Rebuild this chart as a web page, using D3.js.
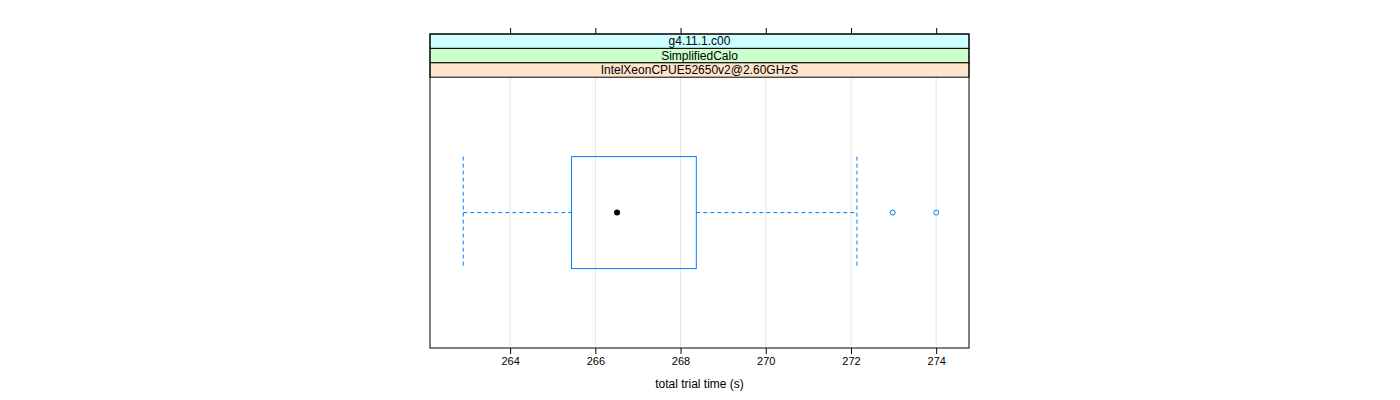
<!DOCTYPE html>
<html><head><meta charset="utf-8">
<script src="https://cdn.jsdelivr.net/npm/d3@7"></script>
<style>body{margin:0;background:#fff}svg{display:block}text{font-family:"Liberation Sans",Arial,sans-serif}</style>
</head><body>
<svg id="c" width="1400" height="400"></svg>
<script>
const stripLabels = ["g4.11.1.c00", "SimplifiedCalo", "IntelXeonCPUE52650v2@2.60GHzS"];
const stripColors = ["#ccffff", "#ccffcc", "#ffe5cc"];
const tickValues = [264, 266, 268, 270, 272, 274];
const xDomain = [262.12, 274.77];
const boxStats = { whiskerLow: 262.9, q1: 265.44, median: 266.51, q3: 268.37, whiskerHigh: 272.14 };
const outliers = [272.98, 274.0];
const xTitle = "total trial time (s)";

const svg = d3.select("#c");
const L = 430, R = 969, T = 34, stripH = 14.4, PB = 348;
const PT = T + stripH * 3;
const x = d3.scaleLinear().domain(xDomain).range([L, R]);
const y = d3.scaleBand().domain(["g"]).range([PT, PB]).paddingInner(0).paddingOuter(0);
const cy = y("g") + y.bandwidth() / 2;
const boxH = 112;
const col = "#0080ff";

// grid
svg.append("g").selectAll("line").data(tickValues).join("line")
  .attr("x1", d => x(d)).attr("x2", d => x(d)).attr("y1", PT).attr("y2", PB)
  .attr("stroke", "#e6e6e6").attr("stroke-width", 1);

// strips
stripLabels.forEach((s, i) => {
  const y0 = T + i * stripH;
  svg.append("rect").attr("x", L).attr("y", y0).attr("width", R - L).attr("height", stripH)
    .attr("fill", stripColors[i]).attr("stroke", "#000").attr("stroke-width", 1);
  svg.append("text").attr("x", (L + R) / 2).attr("y", y0 + stripH / 2 + 4)
    .attr("text-anchor", "middle").attr("font-size", 12).text(s);
});

// panel border
svg.append("rect").attr("x", L).attr("y", T).attr("width", R - L).attr("height", PB - T)
  .attr("fill", "none").attr("stroke", "#000").attr("stroke-width", 1);

// axes
const bottomAxis = svg.append("g").attr("transform", `translate(0,${PB})`)
  .call(d3.axisBottom(x).tickValues(tickValues).tickSize(6).tickPadding(3).tickFormat(d3.format("d")));
bottomAxis.select(".domain").remove();
bottomAxis.selectAll("text").attr("font-size", 11).attr("font-family", '"Liberation Sans",Arial,sans-serif').attr("fill", "#000");
const topAxis = svg.append("g").attr("transform", `translate(0,${T})`)
  .call(d3.axisTop(x).tickValues(tickValues).tickSize(6).tickFormat(""));
topAxis.select(".domain").remove();

svg.append("text").attr("x", (L + R) / 2).attr("y", 388).attr("text-anchor", "middle")
  .attr("font-size", 12).text(xTitle);

// box
const g = svg.append("g").attr("fill", "none").attr("stroke", col);
g.append("rect").attr("x", x(boxStats.q1)).attr("y", cy - boxH / 2)
  .attr("width", x(boxStats.q3) - x(boxStats.q1)).attr("height", boxH).attr("stroke-width", 1);
g.append("line").attr("x1", x(boxStats.whiskerLow)).attr("x2", x(boxStats.q1)).attr("y1", cy).attr("y2", cy)
  .attr("stroke-dasharray", "4,3");
g.append("line").attr("x1", x(boxStats.q3)).attr("x2", x(boxStats.whiskerHigh)).attr("y1", cy).attr("y2", cy)
  .attr("stroke-dasharray", "4,3");
[boxStats.whiskerLow, boxStats.whiskerHigh].forEach(v => {
  g.append("line").attr("x1", x(v)).attr("x2", x(v)).attr("y1", cy - boxH / 2).attr("y2", cy + boxH / 2)
    .attr("stroke-dasharray", "4,3");
});
svg.append("circle").attr("cx", x(boxStats.median)).attr("cy", cy).attr("r", 3).attr("fill", "#000");
svg.append("g").selectAll("circle").data(outliers).join("circle")
  .attr("cx", d => x(d)).attr("cy", cy).attr("r", 2.5).attr("fill", "none").attr("stroke", col).attr("stroke-width", 1);
</script>
</body></html>
